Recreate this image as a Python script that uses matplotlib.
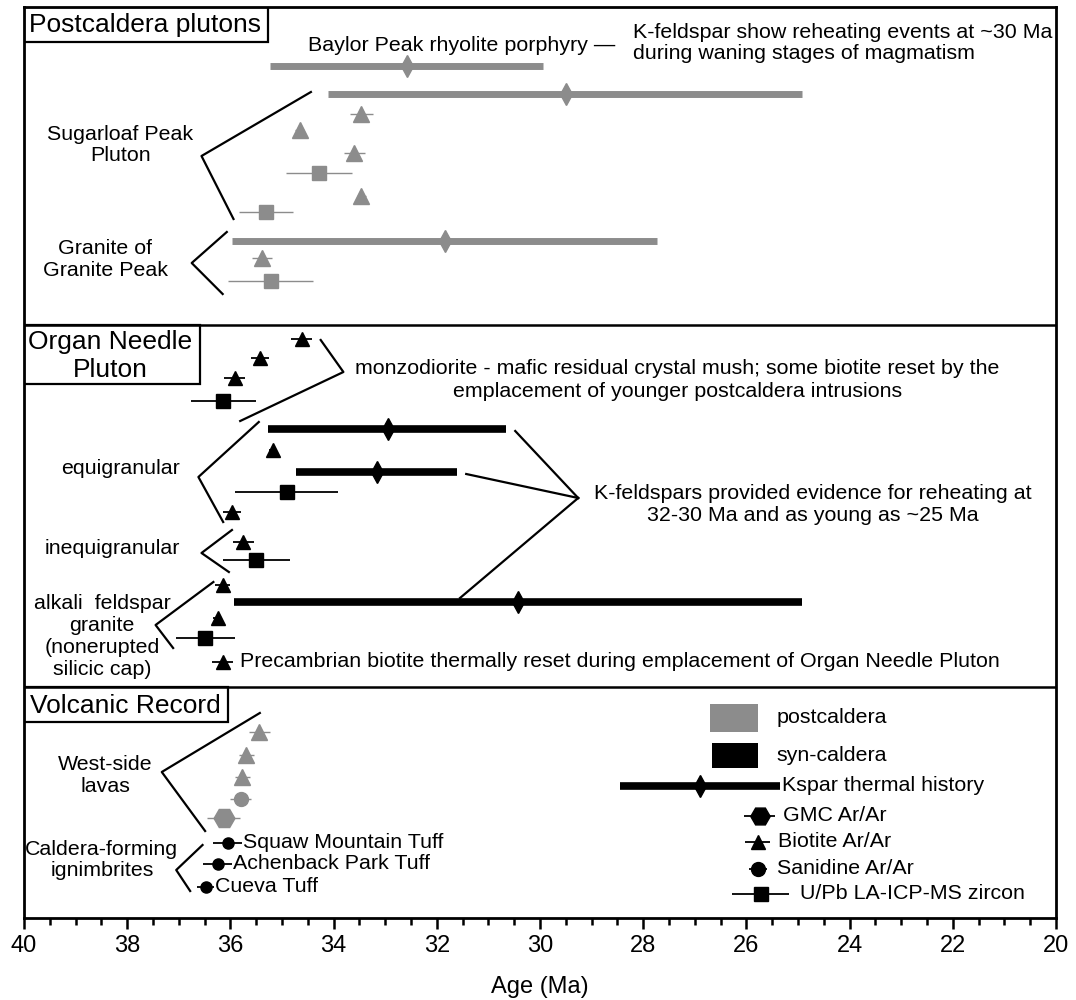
import numpy as np
import matplotlib
matplotlib.use("Agg")
import matplotlib.pyplot as plt
from matplotlib.patches import Rectangle
from matplotlib.ticker import MultipleLocator

plt.rcParams['font.family'] = ['Liberation Sans', 'DejaVu Sans']

GRAY = '#8c8c8c'
BLACK = 'black'

# ---- ages (Ma) ----
# postcaldera plutons
kspar_post_lo = [35.23, 34.11, 35.96]
kspar_post_hi = [29.94, 24.93, 27.73]
kspar_post_mid = [32.57, 29.50, 31.84]
bio_post = [33.46, 34.66, 33.60, 33.46, 35.39]
bio_post_err = [0.23, 0.08, 0.20, 0.08, 0.20]
zrc_post = [34.28, 35.31, 35.22]
zrc_post_err = [0.64, 0.53, 0.82]

# Organ Needle pluton
kspar_syn_lo = [35.28, 34.73, 35.93]
kspar_syn_hi = [30.65, 31.61, 24.93]
kspar_syn_mid = [32.94, 33.15, 30.42]
bio_syn = [34.62, 35.43, 35.92, 35.18, 35.97, 35.75, 36.15, 36.25, 36.15]
bio_syn_err = [0.20, 0.17, 0.20, 0.08, 0.17, 0.20, 0.15, 0.08, 0.20]
zrc_syn = [36.14, 34.91, 35.50, 36.49]
zrc_syn_err = [0.63, 1.00, 0.65, 0.57]

# volcanic record
bio_vol = [35.44, 35.69, 35.77]
bio_vol_err = [0.20, 0.15, 0.15]
san_vol = [35.80]
san_vol_err = [0.20]
gmc_vol = [36.13]
gmc_vol_err = [0.32]
san_ign = [36.05, 36.25, 36.48]
san_ign_err = [0.28, 0.28, 0.17]
ign_names = ['Squaw Mountain Tuff', 'Achenback Park Tuff', 'Cueva Tuff']

# ---- row layout (top to bottom) ----
r_kspar_post = [66, 94, 241]
r_bio_post = [114, 130, 153, 196, 258]
r_zrc_post = [173, 212, 281]
r_kspar_syn = [429, 472, 602]
r_bio_syn = [339, 358, 378, 450, 512, 542, 585, 618, 662]
r_zrc_syn = [401, 492, 560, 638]
r_bio_vol = [732, 755, 777]
r_san_vol = [799]
r_gmc_vol = [818]
r_san_ign = [843, 864, 887]

brackets = [
    [(34.44, 92), (36.56, 156), (35.94, 219)],
    [(36.07, 232), (36.75, 263), (36.15, 294)],
    [(34.25, 340), (33.81, 372), (35.81, 421)],
    [(35.45, 422), (36.62, 477), (36.14, 522)],
    [(35.97, 530), (36.56, 553), (36.03, 572)],
    [(36.33, 582), (37.45, 625), (37.11, 648)],
    [(35.43, 713), (37.33, 772), (36.49, 831)],
    [(36.54, 845), (37.05, 870), (36.78, 891)],
]
fan_tip = (29.26, 498)
fan_from = [(30.48, 431), (31.43, 474), (31.55, 598)]

fig = plt.figure(figsize=(10.76, 10), dpi=100)
ax = fig.add_axes([24 / 1076, 82 / 1000, 1032 / 1076, 911 / 1000])
ax.set_xlim(40, 20)
ax.set_ylim(918, 7)


def kspar(lo, hi, mid, rows, c, lw):
    for a, b, m, r in zip(lo, hi, mid, rows):
        ax.plot([a, b], [r, r], color=c, lw=lw, solid_capstyle='butt', zorder=2)
        ax.plot(m, r, marker='d', ms=11, color=c, zorder=3)


def points(x, err, rows, c, mk, ms, elw=1.0):
    ax.errorbar(x, rows, xerr=err, fmt=mk, color=c, ms=ms, mec=c,
                elinewidth=elw, capsize=0, zorder=3)


kspar(kspar_post_lo, kspar_post_hi, kspar_post_mid, r_kspar_post, GRAY, 5)
points(bio_post, bio_post_err, r_bio_post, GRAY, '^', 11)
points(zrc_post, zrc_post_err, r_zrc_post, GRAY, 's', 10)

kspar(kspar_syn_lo, kspar_syn_hi, kspar_syn_mid, r_kspar_syn, BLACK, 5.5)
points(bio_syn, bio_syn_err, r_bio_syn, BLACK, '^', 10, 1.3)
points(zrc_syn, zrc_syn_err, r_zrc_syn, BLACK, 's', 10, 1.3)

points(bio_vol, bio_vol_err, r_bio_vol, GRAY, '^', 11)
points(san_vol, san_vol_err, r_san_vol, GRAY, 'o', 10)
points(gmc_vol, gmc_vol_err, r_gmc_vol, GRAY, 'H', 15)
points(san_ign, san_ign_err, r_san_ign, BLACK, 'o', 8, 1.3)

for br in brackets:
    xs, ys = zip(*br)
    ax.plot(xs, ys, color=BLACK, lw=1.6, zorder=2)
for x0, y0 in fan_from:
    ax.plot([x0, fan_tip[0]], [y0, fan_tip[1]], color=BLACK, lw=1.6)

# panel separators and title boxes
for y in (325, 687):
    ax.axhline(y, color=BLACK, lw=1.8)
for (x0, x1, y0, y1) in [(40, 35.27, 7, 42), (40, 36.59, 325, 384), (40, 36.05, 687, 722)]:
    ax.add_patch(Rectangle((x0, y0), x1 - x0, y1 - y0, fill=False, ec=BLACK, lw=1.6, zorder=4))

fs = 15.4
ax.text(39.90, 25, 'Postcaldera plutons', fontsize=19, va='center', ha='left')
ax.text(38.33, 356, 'Organ Needle\nPluton', fontsize=19, va='center', ha='center', linespacing=1.25)
ax.text(39.88, 706, 'Volcanic Record', fontsize=19, va='center', ha='left')

ax.text(34.50, 46, 'Baylor Peak rhyolite porphyry \u2014', fontsize=fs, va='center')
ax.text(28.20, 43, 'K-feldspar show reheating events at ~30 Ma\nduring waning stages of magmatism',
        fontsize=fs, va='center', linespacing=1.1)
ax.text(38.13, 145, 'Sugarloaf Peak\nPluton', fontsize=fs, ha='center', va='center', linespacing=1.15)
ax.text(38.43, 260, 'Granite of\nGranite Peak', fontsize=fs, ha='center', va='center', linespacing=1.2)

ax.text(27.34, 380, 'monzodiorite - mafic residual crystal mush; some biotite reset by the\n'
        'emplacement of younger postcaldera intrusions', fontsize=fs, ha='center', va='center',
        linespacing=1.25)
ax.text(24.71, 505, 'K-feldspars provided evidence for reheating at\n32-30 Ma and as young as ~25 Ma',
        fontsize=fs, ha='center', va='center', linespacing=1.2)
ax.text(38.13, 469, 'equigranular', fontsize=fs, ha='center', va='center')
ax.text(38.28, 549, 'inequigranular', fontsize=fs, ha='center', va='center')
ax.text(38.49, 637, 'alkali  feldspar\ngranite\n(nonerupted\nsilicic cap)', fontsize=fs,
        ha='center', va='center', linespacing=1.2)
ax.text(35.81, 662, 'Precambrian biotite thermally reset during emplacement of Organ Needle Pluton',
        fontsize=fs, va='center')

ax.text(38.43, 776, 'West-side\nlavas', fontsize=fs, ha='center', va='center', linespacing=1.2)
ax.text(38.49, 860, 'Caldera-forming\nignimbrites', fontsize=fs, ha='center', va='center', linespacing=1.15)
for name, x, e, r in zip(ign_names, san_ign, san_ign_err, r_san_ign):
    ax.text(x - e - 0.02, r, name, fontsize=fs, va='center')

# key
ax.add_patch(Rectangle((25.78, 704), 0.93, 28, color=GRAY, lw=0))
ax.add_patch(Rectangle((25.78, 743), 0.89, 25, color=BLACK, lw=0))
ax.text(25.41, 718, 'postcaldera', fontsize=fs, va='center')
ax.text(25.41, 756, 'syn-caldera', fontsize=fs, va='center')
kspar([28.45], [25.35], [26.90], [786], BLACK, 5.5)
ax.text(25.31, 786, 'Kspar thermal history', fontsize=fs, va='center')
points([25.74], [0.30], [816], BLACK, 'H', 14, 1.3)
ax.text(25.29, 816, 'GMC Ar/Ar', fontsize=fs, va='center')
points([25.78], [0.24], [842], BLACK, '^', 10, 1.3)
ax.text(25.39, 842, 'Biotite Ar/Ar', fontsize=fs, va='center')
points([25.78], [0.17], [869], BLACK, 'o', 10, 1.3)
ax.text(25.41, 869, 'Sanidine Ar/Ar', fontsize=fs, va='center')
points([25.72], [0.55], [894], BLACK, 's', 10, 1.3)
ax.text(24.96, 894, 'U/Pb LA-ICP-MS zircon', fontsize=fs, va='center')

ax.set_xticks(np.arange(40, 19, -2))
ax.xaxis.set_minor_locator(MultipleLocator(0.5))
ax.tick_params(axis='x', which='major', direction='out', length=8, width=1.8, labelsize=17, pad=4)
ax.tick_params(axis='x', which='minor', direction='out', length=5, width=1.8)
ax.set_yticks([])
for s in ax.spines.values():
    s.set_linewidth(2)
ax.set_xlabel('Age (Ma)', fontsize=17, labelpad=14)

fig.savefig('out.png', dpi=100)
